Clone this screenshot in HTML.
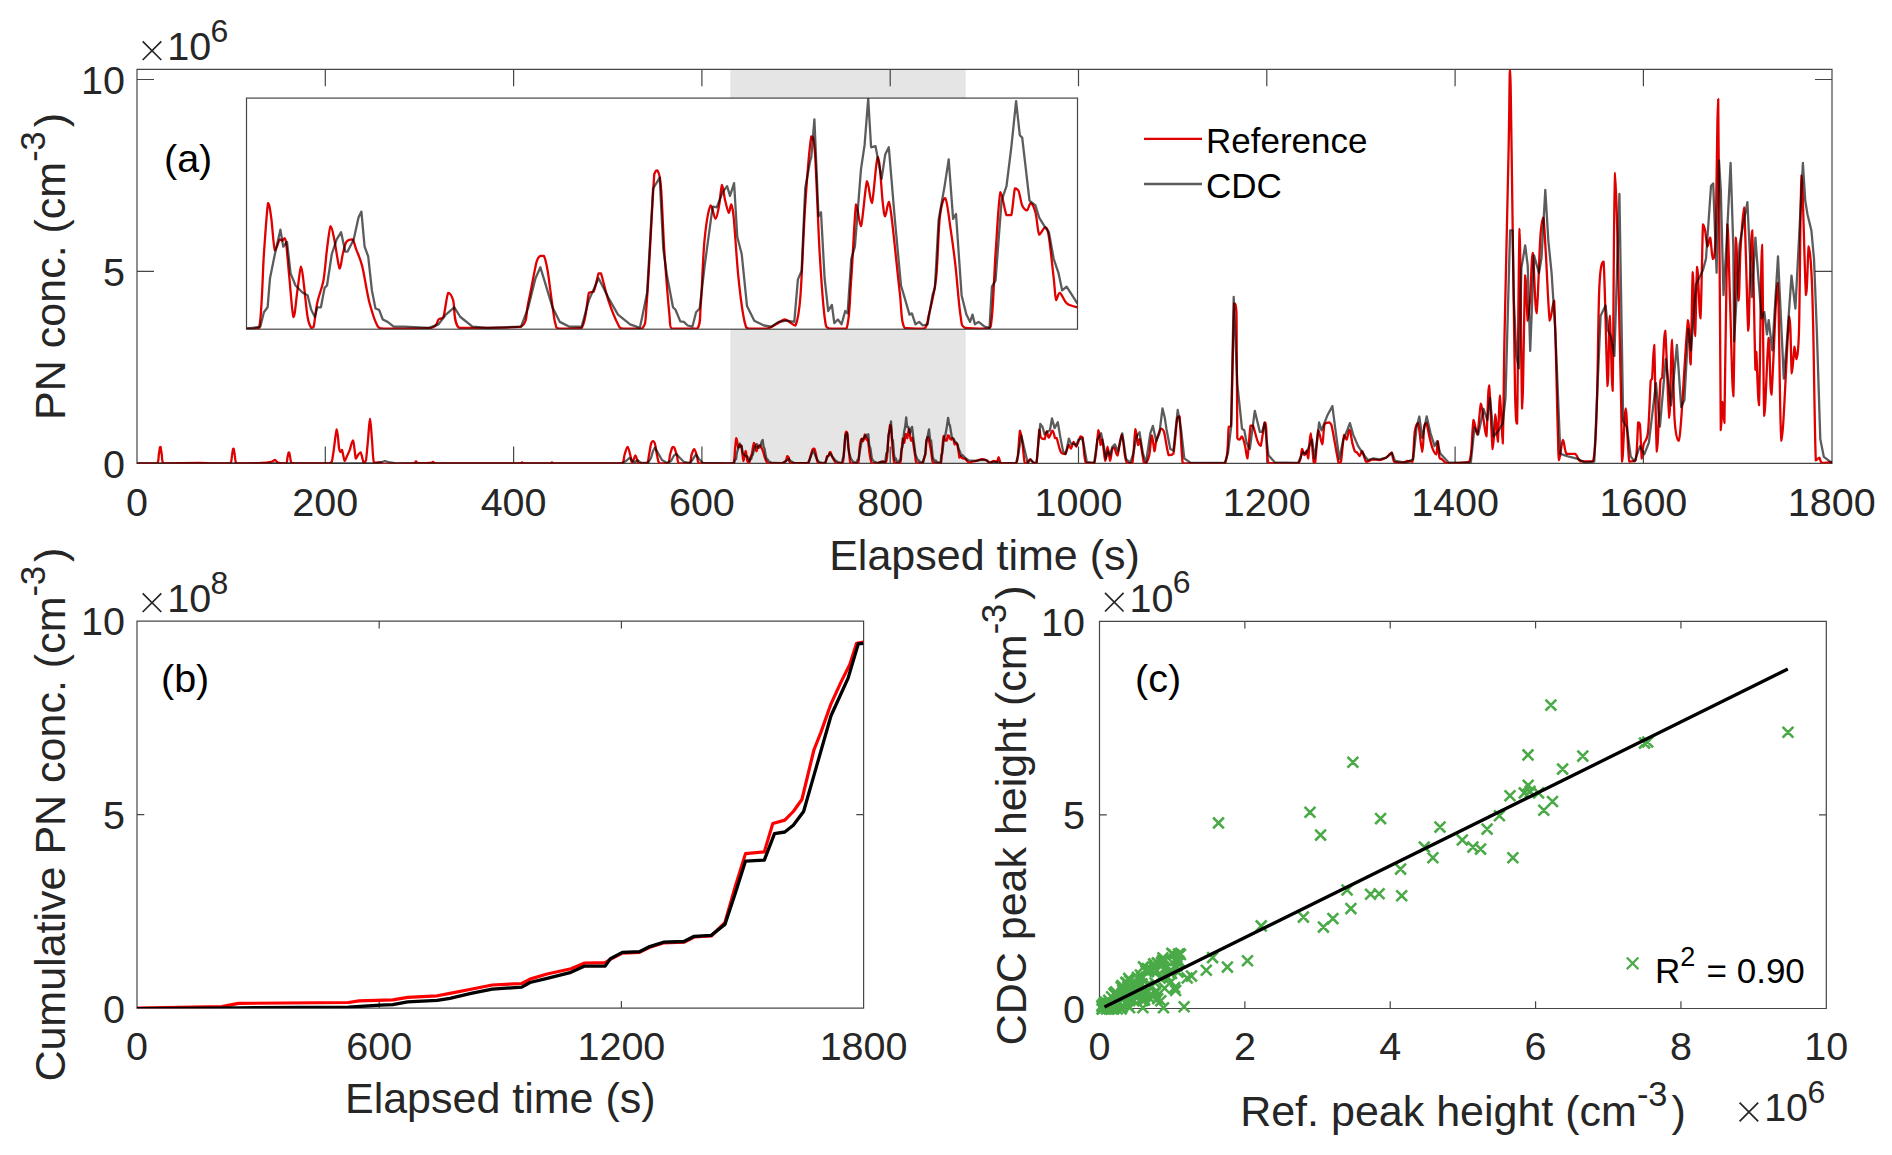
<!DOCTYPE html><html><head><meta charset="utf-8"><style>html,body{margin:0;padding:0;background:#fff;overflow:hidden}svg{display:block}</style></head><body><svg width="1892" height="1155" viewBox="0 0 1892 1155" font-family='"Liberation Sans", sans-serif'>
<rect width="1892" height="1155" fill="#fff"/>
<defs><clipPath id="ca"><rect x="137" y="69.3" width="1695" height="394.1"/></clipPath><clipPath id="ci"><rect x="246.5" y="98.1" width="831" height="231.1"/></clipPath><clipPath id="cb"><rect x="137" y="621.1" width="726.6" height="387.1"/></clipPath></defs>
<rect x="730.3" y="69.3" width="235.4" height="394.09999999999997" fill="#e5e5e5"/>
<path d="M137,69.3 H1832 V463.4 H137 Z M325.30,463.4 v-17 M325.30,69.3 v17 M513.60,463.4 v-17 M513.60,69.3 v17 M701.90,463.4 v-17 M701.90,69.3 v17 M890.20,463.4 v-17 M890.20,69.3 v17 M1078.50,463.4 v-17 M1078.50,69.3 v17 M1266.80,463.4 v-17 M1266.80,69.3 v17 M1455.10,463.4 v-17 M1455.10,69.3 v17 M1643.40,463.4 v-17 M1643.40,69.3 v17 M137,271.45 h17 M1832,271.45 h-17 M137,79.50 h17 M1832,79.50 h-17" fill="none" stroke="#262626" stroke-width="1.2" stroke-opacity="0.85"/>
<g clip-path="url(#ca)" fill="none" stroke-linejoin="round">
<path d="M137.0,463.4 C140.3,463.4 153.5,463.4 157.1,463.4 C158.9,461.9 158.4,457.0 158.9,454.3 C159.3,451.6 159.7,448.5 159.9,447.3 C160.2,446.8 160.2,446.8 160.3,446.8 C160.4,446.8 160.4,446.8 160.7,447.3 C160.9,448.5 161.3,451.6 161.7,454.3 C162.2,457.0 161.7,461.9 163.5,463.4 C169.9,463.4 192.2,463.0 200.0,463.0 C207.8,463.0 205.0,463.3 210.0,463.4 C215.0,463.4 226.5,463.4 230.2,463.4 C232.0,462.1 231.5,457.7 232.0,455.3 C232.4,452.9 232.8,450.3 233.0,449.2 C233.3,448.7 233.3,448.7 233.4,448.7 C233.5,448.7 233.5,448.7 233.8,449.2 C234.0,450.3 234.4,452.9 234.8,455.3 C235.3,457.7 234.8,462.1 236.6,463.4 C241.1,463.4 256.1,463.3 262.0,463.0 C267.9,462.7 269.8,462.0 272.0,461.5 C274.2,461.0 274.0,460.0 275.0,460.0 C276.0,460.2 276.2,461.9 278.0,462.5 C279.8,463.1 284.3,463.4 285.9,463.4 C287.5,462.5 287.1,459.1 287.5,457.3 C288.0,455.5 288.3,453.6 288.5,452.8 C288.8,452.3 288.8,452.3 288.9,452.3 C289.0,452.3 289.0,452.3 289.3,452.8 C289.5,453.6 289.8,455.5 290.2,457.3 C290.7,459.1 290.2,462.4 291.9,463.4 C298.5,463.4 323.1,463.4 330.0,463.4 C333.0,462.0 331.9,460.7 333.0,455.0 C334.1,449.3 335.8,430.5 336.8,429.3 C337.8,429.3 338.4,444.2 339.0,448.0 C339.6,451.8 340.0,451.7 340.5,452.0 C341.0,452.0 341.3,450.0 342.0,450.0 C342.7,451.5 343.9,460.0 344.7,461.0 C345.5,461.0 346.2,457.7 347.0,456.0 C347.8,454.3 348.5,453.3 349.5,450.7 C350.5,448.1 351.9,440.4 353.0,440.4 C354.1,441.7 355.0,456.3 355.8,458.7 C356.6,458.7 357.2,456.1 358.0,455.0 C358.8,453.9 359.7,452.3 360.6,452.3 C361.6,453.6 362.8,461.3 363.7,462.6 C364.6,462.6 365.3,462.6 366.0,460.0 C366.7,456.2 367.3,446.9 368.0,440.0 C368.7,433.1 369.3,418.7 370.0,418.7 C370.7,418.7 371.3,432.7 372.0,440.0 C372.7,447.3 372.7,458.9 374.0,462.6 C375.3,462.6 378.3,462.5 380.0,462.5 C381.7,462.7 382.3,463.8 384.0,464.0 C385.7,464.0 385.0,463.7 390.0,463.6 C395.0,463.5 409.7,463.6 414.0,463.2 C416.0,462.8 415.3,461.5 416.0,461.5 C416.7,461.5 416.0,462.9 418.0,463.2 C420.3,463.2 427.5,463.2 430.0,463.0 C432.5,462.8 432.0,462.0 433.0,462.0 C434.0,462.1 433.0,463.2 436.0,463.4 C450.5,463.4 505.7,463.4 520.0,463.4 C522.0,463.2 521.3,462.5 522.0,462.5 C522.7,462.5 522.0,463.2 524.0,463.4 C528.7,463.4 545.3,463.4 550.0,463.4 C552.0,463.2 551.2,462.5 552.0,462.5 C552.8,462.5 552.0,463.2 555.0,463.4 C561.3,463.4 578.8,463.4 590.0,463.4 C601.2,463.4 616.2,463.4 622.0,463.2 C624.5,461.8 623.6,457.7 624.5,455.0 C625.4,452.3 626.6,446.8 627.6,446.8 C628.6,447.0 629.8,453.3 630.5,456.0 C631.2,458.7 631.5,462.3 632.0,463.0 C632.5,463.0 632.9,461.2 633.5,460.0 C634.1,458.8 634.8,455.5 635.5,455.5 C636.2,455.7 636.9,459.7 637.5,461.0 C638.1,462.3 637.5,463.0 639.0,463.4 C640.6,463.4 645.3,463.4 647.0,463.2 C648.7,461.8 648.3,458.2 649.0,455.0 C649.7,451.8 650.3,446.3 651.0,444.0 C651.7,441.7 652.3,441.2 653.0,441.2 C653.7,441.2 654.3,441.7 655.0,444.0 C655.7,446.3 656.2,451.8 657.0,455.0 C657.8,458.2 657.7,462.0 659.5,463.4 C661.3,463.4 666.2,463.4 668.0,463.2 C669.8,461.8 669.3,457.5 670.0,455.0 C670.7,452.5 671.5,449.4 672.0,448.0 C672.5,446.8 672.8,446.8 673.2,446.8 C673.6,446.8 673.9,446.8 674.5,448.0 C675.1,449.5 676.2,453.4 677.0,456.0 C677.8,458.6 677.0,462.2 679.0,463.4 C681.1,463.4 687.4,463.4 689.5,463.2 C691.5,461.8 690.7,457.3 691.5,455.0 C692.3,452.7 693.3,449.2 694.2,449.2 C695.1,449.4 696.2,453.6 697.0,456.0 C697.8,458.4 697.0,462.2 699.0,463.4 C704.3,463.4 723.8,463.4 729.0,463.4 C730.1,463.4 729.4,463.3 730.1,463.3 C730.9,463.3 732.9,463.3 733.7,463.1 C734.5,460.7 734.7,452.5 735.1,448.4 C735.5,444.2 735.9,439.4 736.3,438.2 C736.6,438.2 736.8,439.5 737.1,441.1 C737.5,442.7 737.8,446.9 738.2,447.6 C738.6,447.6 739.2,445.8 739.6,445.4 C739.9,445.4 740.0,445.7 740.2,445.7 C740.5,445.6 740.7,445.2 740.9,445.2 C741.1,445.3 741.2,445.2 741.4,446.4 C741.6,447.8 742.0,450.8 742.3,453.2 C742.6,455.6 743.1,460.6 743.5,461.0 C743.8,461.0 744.2,457.3 744.6,455.6 C744.9,454.0 745.3,451.0 745.6,450.9 C745.9,450.9 746.1,453.0 746.4,454.7 C746.7,456.3 747.1,459.6 747.4,461.0 C747.8,462.4 748.2,462.8 748.5,463.1 C748.8,463.1 748.9,463.1 749.2,462.9 C749.5,462.1 749.7,459.6 750.2,458.1 C750.7,456.5 751.5,455.5 751.9,453.7 C752.4,451.9 752.6,449.2 752.9,447.4 C753.3,445.6 753.6,443.1 754.0,442.8 C754.3,442.8 754.6,444.0 755.0,445.4 C755.4,446.9 756.1,450.8 756.5,451.3 C756.9,451.3 757.1,449.2 757.4,448.4 C757.7,447.5 758.0,446.4 758.4,445.9 C758.9,445.4 759.7,445.4 760.2,445.4 C760.6,445.7 760.7,446.5 761.2,447.4 C761.6,448.3 762.3,449.0 762.9,450.8 C763.5,452.6 764.2,456.0 765.0,458.1 C765.7,460.1 766.6,462.0 767.4,462.9 C768.1,463.3 767.4,463.3 769.4,463.3 C771.9,463.3 780.0,463.3 782.5,463.1 C784.5,462.8 784.0,461.8 784.5,461.5 C785.1,461.1 785.5,461.5 785.9,461.0 C786.4,460.1 786.8,456.7 787.3,456.1 C787.7,456.1 788.1,456.4 788.7,457.6 C789.2,458.7 788.7,462.3 790.4,463.1 C793.6,463.1 804.6,463.1 807.9,462.9 C809.9,462.1 809.2,460.2 809.9,458.1 C810.7,455.9 811.8,451.4 812.4,449.8 C812.9,448.7 813.0,448.9 813.4,448.7 C813.7,448.7 814.1,448.7 814.4,448.7 C814.8,449.2 814.9,449.6 815.4,451.8 C816.0,454.0 816.9,460.0 817.5,461.9 C818.1,463.3 817.6,463.1 818.9,463.3 C820.1,463.3 823.7,463.3 825.1,463.1 C826.4,462.0 826.5,457.3 827.1,456.1 C827.7,455.9 828.0,456.1 828.5,455.9 C829.0,455.2 829.5,452.8 829.9,452.2 C830.2,452.2 830.1,452.2 830.6,452.2 C831.0,453.1 831.8,455.9 832.6,457.6 C833.4,459.3 834.7,461.5 835.4,462.4 C836.0,463.3 835.6,463.1 836.7,463.3 C837.9,463.3 841.1,463.3 842.2,463.3 C843.4,462.3 843.0,462.2 843.6,457.1 C844.2,451.9 845.2,436.6 845.7,432.4 C846.1,431.6 846.2,431.6 846.5,431.6 C846.8,432.0 847.2,432.0 847.5,434.8 C847.9,437.6 848.2,444.1 848.6,448.4 C849.0,452.6 849.6,458.0 849.9,460.5 C850.3,463.0 849.9,462.8 850.6,463.3 C851.9,463.3 856.5,463.3 857.8,463.3 C858.9,462.4 858.5,461.0 858.9,458.1 C859.2,455.1 859.4,448.7 859.9,445.4 C860.3,442.2 861.1,439.3 861.6,438.7 C862.1,438.7 862.6,441.3 863.0,441.3 C863.4,441.3 863.7,439.8 864.0,438.7 C864.3,437.5 864.5,434.7 864.8,434.5 C865.1,434.5 865.4,436.8 865.7,437.7 C866.0,438.6 866.5,440.0 866.8,440.1 C867.0,440.1 867.2,438.4 867.4,438.4 C867.7,438.6 867.8,438.6 868.1,441.1 C868.5,443.5 869.0,449.7 869.5,453.2 C870.0,456.7 870.7,460.3 871.2,461.9 C871.7,463.3 871.6,463.1 872.6,463.3 C873.6,463.3 876.1,463.3 877.4,463.3 C878.7,463.1 879.3,462.7 880.1,462.4 C881.0,462.1 881.9,461.5 882.6,461.5 C883.2,461.5 883.4,461.7 883.9,461.9 C884.4,462.1 885.1,462.7 885.6,462.7 C886.2,461.9 886.6,461.1 887.0,457.1 C887.5,453.1 887.9,444.0 888.4,438.7 C888.9,433.3 889.6,426.6 890.1,424.8 C890.6,424.8 890.7,424.8 891.1,428.0 C891.5,431.9 892.1,442.9 892.5,448.4 C893.0,453.9 893.4,458.5 893.9,461.0 C894.3,463.3 894.2,462.9 895.3,463.3 C896.3,463.3 899.0,463.3 900.1,463.3 C901.1,461.6 901.0,457.4 901.4,453.2 C901.9,449.1 902.4,440.2 902.8,438.4 C903.3,438.4 903.7,442.8 904.2,442.8 C904.7,442.0 905.4,434.6 905.9,433.8 C906.4,433.8 906.8,438.2 907.3,438.2 C907.8,437.4 908.5,429.0 909.0,429.0 C909.5,429.0 910.0,436.2 910.4,438.2 C910.7,440.2 910.8,440.8 911.1,440.8 C911.3,440.8 911.7,437.9 912.1,437.9 C912.4,438.2 912.6,439.5 913.1,442.5 C913.6,445.6 914.6,452.7 915.2,456.1 C915.7,459.6 915.4,462.0 916.5,463.1 C917.7,463.3 920.9,463.3 922.0,463.3 C923.2,462.8 922.8,462.2 923.4,460.5 C924.0,458.8 925.0,456.4 925.5,453.2 C926.0,450.0 926.1,443.8 926.5,441.1 C926.9,438.4 927.6,437.2 928.1,437.2 C928.6,437.6 929.1,441.2 929.6,443.5 C930.1,445.8 930.5,448.0 931.0,450.8 C931.4,453.6 931.9,458.4 932.3,460.5 C932.8,462.5 932.5,462.7 933.7,463.1 C935.0,463.3 938.6,463.3 939.9,463.3 C941.2,462.9 940.9,463.3 941.3,461.0 C941.7,458.5 941.9,452.5 942.3,448.4 C942.7,444.2 943.2,437.3 943.7,436.0 C944.2,436.0 944.9,439.8 945.4,440.6 C945.9,440.6 946.4,440.6 946.8,440.6 C947.2,439.7 947.5,436.1 947.8,435.3 C948.1,435.3 948.5,435.3 948.8,435.7 C949.2,436.3 949.5,438.0 949.9,438.7 C950.3,439.3 950.8,439.6 951.2,439.6 C951.6,439.5 951.9,438.2 952.3,438.2 C952.7,438.3 953.2,439.1 953.6,440.1 C954.0,441.2 954.2,444.0 954.7,444.5 C955.1,444.5 955.9,443.0 956.4,443.0 C956.8,443.1 957.0,443.3 957.4,445.0 C957.8,446.7 958.4,451.1 958.8,453.2 C959.1,455.3 959.2,457.1 959.5,457.6 C959.8,457.6 960.0,456.1 960.5,456.1 C961.0,456.2 961.7,457.8 962.6,458.3 C963.4,458.8 964.5,458.3 965.5,459.0 C966.5,459.7 966.7,462.1 968.5,462.4 C970.2,462.4 973.6,461.4 975.9,460.8 C978.1,460.3 980.4,459.3 982.2,459.2 C984.0,459.2 985.2,459.7 986.4,460.3 C987.7,460.9 988.4,462.9 989.6,462.9 C990.8,462.9 992.6,461.0 993.8,460.8 C995.1,460.8 996.2,461.9 997.0,461.9 C997.8,461.3 998.1,457.1 998.6,457.1 C999.1,457.1 999.6,460.8 1000.2,461.9 C1000.8,462.9 1000.2,463.2 1002.3,463.5 C1004.7,463.5 1012.4,463.5 1015.0,463.5 C1017.5,462.5 1016.8,463.1 1017.6,457.7 C1018.5,452.2 1019.2,433.2 1020.0,430.7 C1020.8,430.7 1021.6,437.7 1022.4,442.9 C1023.1,448.1 1023.8,458.4 1024.5,461.9 C1025.2,463.5 1025.6,463.5 1026.6,463.5 C1027.6,463.0 1029.1,459.2 1030.3,459.2 C1031.5,459.2 1032.9,462.9 1034.0,463.5 C1035.1,463.5 1035.8,463.5 1036.6,462.9 C1037.5,457.3 1038.6,433.9 1039.3,429.6 C1040.0,429.6 1040.0,436.0 1040.9,437.6 C1041.7,439.2 1043.6,439.2 1044.6,439.2 C1045.5,438.1 1046.0,431.5 1046.7,431.2 C1047.4,431.2 1047.8,437.6 1048.8,437.6 C1049.8,437.5 1051.4,430.7 1052.5,430.7 C1053.6,430.8 1054.4,436.9 1055.1,438.1 C1055.8,438.1 1056.0,438.1 1056.7,438.1 C1057.4,439.8 1058.6,445.7 1059.4,448.1 C1060.2,450.6 1060.5,451.9 1061.5,452.9 C1062.4,453.9 1063.9,454.0 1065.2,454.0 C1066.4,452.6 1067.9,445.8 1068.9,445.0 C1069.8,445.0 1070.2,448.7 1071.0,448.7 C1071.8,448.1 1072.8,442.1 1073.6,441.8 C1074.5,441.8 1075.1,446.6 1076.3,446.6 C1077.4,445.7 1079.5,438.0 1080.5,436.5 C1081.6,436.5 1081.7,436.5 1082.6,437.6 C1083.5,442.0 1083.9,458.7 1085.8,462.9 C1087.7,463.3 1092.1,463.3 1094.2,463.3 C1096.4,457.8 1097.4,433.2 1098.5,430.2 C1099.5,430.2 1100.0,443.4 1100.6,445.0 C1101.2,445.0 1101.4,439.7 1102.2,439.7 C1103.0,442.3 1104.5,459.7 1105.3,460.8 C1106.2,460.8 1106.7,446.6 1107.5,446.6 C1108.3,446.6 1109.3,460.4 1110.1,460.8 C1110.9,460.8 1111.5,451.4 1112.2,449.2 C1112.9,447.6 1113.5,447.6 1114.3,447.6 C1115.2,448.7 1116.3,455.5 1117.5,455.5 C1118.7,453.3 1120.5,434.4 1121.7,434.4 C1123.0,434.4 1124.0,450.8 1124.9,455.5 C1125.8,460.3 1125.8,461.6 1127.0,462.9 C1128.3,463.5 1130.9,463.5 1132.3,463.5 C1133.7,457.8 1134.5,432.2 1135.5,429.1 C1136.4,429.1 1137.4,443.3 1138.1,445.0 C1138.8,445.0 1138.7,439.2 1139.7,439.2 C1140.7,442.1 1142.9,458.9 1143.9,462.9 C1145.0,463.5 1145.2,463.5 1146.0,463.5 C1146.9,462.2 1148.2,460.2 1149.2,455.5 C1150.2,450.9 1151.0,436.2 1151.9,435.5 C1152.7,435.5 1153.8,450.4 1154.5,451.3 C1155.2,451.3 1155.2,445.0 1156.2,441.2 C1157.3,437.4 1159.6,430.3 1160.9,428.7 C1162.2,428.7 1162.7,428.7 1164.0,431.9 C1165.3,436.3 1167.1,451.6 1168.7,455.2 C1170.3,455.2 1172.0,455.2 1173.4,453.7 C1174.8,447.4 1176.2,424.1 1177.3,417.8 C1178.3,416.3 1178.7,416.3 1179.6,416.3 C1180.5,423.8 1181.4,455.2 1182.7,463.0 C1184.0,463.3 1182.7,463.3 1187.4,463.3 C1194.4,463.3 1217.9,463.3 1224.8,463.3 C1228.7,457.3 1227.7,433.5 1228.7,427.2 C1229.8,425.6 1230.2,427.2 1231.1,425.6 C1232.0,405.0 1233.3,322.0 1234.2,303.3 C1235.1,303.3 1236.0,303.3 1236.5,313.4 C1237.0,335.9 1236.8,417.0 1237.3,438.1 C1237.8,439.6 1238.9,439.6 1239.6,439.6 C1240.4,439.4 1241.1,436.5 1242.0,436.5 C1242.9,437.6 1244.2,442.2 1245.1,445.9 C1246.0,449.5 1246.5,458.4 1247.4,458.4 C1248.3,455.0 1249.6,431.1 1250.5,425.6 C1251.5,425.6 1251.7,425.6 1252.9,425.6 C1254.1,428.2 1256.3,437.8 1257.6,441.2 C1258.9,444.6 1259.5,445.9 1260.7,445.9 C1261.8,442.8 1263.7,425.6 1264.6,422.5 C1265.5,422.5 1265.5,422.5 1266.1,427.2 C1266.8,433.9 1266.1,457.0 1268.5,463.0 C1273.8,463.3 1292.5,463.3 1298.1,463.3 C1302.0,461.0 1300.9,450.4 1302.0,449.0 C1303.0,449.0 1303.5,455.0 1304.3,455.2 C1305.1,455.2 1306.0,450.6 1306.7,450.6 C1307.3,451.1 1307.6,458.4 1308.2,458.4 C1308.9,455.5 1309.7,433.4 1310.6,433.4 C1311.5,434.1 1312.9,457.4 1313.7,462.3 C1314.5,462.3 1314.5,462.3 1315.2,462.3 C1316.0,456.9 1317.2,433.3 1318.4,430.3 C1319.5,430.3 1321.2,444.3 1322.3,444.3 C1323.3,443.3 1323.4,427.7 1324.6,424.1 C1325.8,422.5 1328.1,422.5 1329.3,422.5 C1330.4,422.8 1330.0,422.5 1331.6,425.6 C1333.2,432.4 1337.1,457.1 1338.6,463.0 C1340.2,463.0 1340.0,463.0 1341.0,461.5 C1341.9,456.8 1343.1,438.6 1344.1,435.0 C1345.0,435.0 1345.7,439.6 1346.6,439.6 C1347.5,438.7 1348.6,429.7 1349.5,429.7 C1350.5,430.2 1351.5,439.3 1352.3,442.9 C1353.2,446.4 1354.0,449.4 1354.8,451.1 C1355.6,452.7 1356.5,451.9 1357.3,452.7 C1358.1,453.5 1358.9,456.0 1359.7,456.0 C1360.6,455.7 1361.1,451.1 1362.2,451.1 C1363.3,452.0 1364.5,460.4 1366.3,461.8 C1368.1,461.8 1370.7,459.6 1372.9,459.3 C1375.1,459.3 1377.3,460.1 1379.5,460.1 C1381.7,459.9 1384.4,458.6 1386.1,457.7 C1387.7,456.7 1388.4,455.2 1389.4,454.4 C1390.3,453.5 1391.0,452.7 1391.8,452.7 C1392.6,454.0 1392.5,460.1 1394.3,461.8 C1396.1,462.6 1400.3,462.6 1402.5,462.6 C1404.7,462.5 1405.8,461.1 1407.4,461.0 C1409.1,461.0 1411.1,461.8 1412.4,461.8 C1413.6,456.8 1413.9,437.8 1414.8,431.3 C1415.8,424.9 1416.9,423.1 1418.1,423.1 C1419.4,426.5 1421.2,451.4 1422.3,451.9 C1423.3,451.9 1423.5,431.2 1424.2,426.4 C1424.9,423.1 1425.5,423.1 1426.4,423.1 C1427.3,425.0 1428.6,433.5 1429.7,437.9 C1430.7,442.3 1431.8,446.7 1432.9,449.4 C1434.0,452.2 1435.4,454.4 1436.2,454.4 C1437.1,453.0 1437.3,441.2 1437.9,441.2 C1438.4,441.8 1438.8,454.6 1439.5,457.7 C1440.2,459.3 1440.8,458.3 1442.0,459.3 C1443.2,460.3 1444.7,462.7 1446.9,463.4 C1449.1,463.4 1452.4,463.4 1455.2,463.4 C1457.9,463.3 1461.1,462.9 1463.4,462.6 C1465.7,462.3 1467.8,462.6 1469.1,461.8 C1470.4,459.9 1470.5,457.9 1471.3,450.9 C1472.0,443.9 1472.6,422.7 1473.6,420.0 C1474.6,420.0 1476.1,434.5 1477.3,434.5 C1478.5,431.8 1479.9,406.0 1480.9,403.6 C1482.0,403.6 1482.7,414.5 1483.6,420.0 C1484.5,425.5 1485.5,436.4 1486.4,436.4 C1487.3,430.6 1488.0,385.5 1489.1,385.5 C1490.1,387.6 1491.6,444.3 1492.7,449.1 C1493.8,449.1 1494.7,415.7 1495.5,414.5 C1496.3,414.5 1497.0,441.8 1497.8,441.8 C1498.5,438.6 1499.2,395.5 1500.0,395.5 C1500.8,395.8 1502.0,443.6 1502.7,443.6 C1503.5,433.8 1503.5,385.3 1504.5,336.4 C1505.5,287.5 1507.7,194.6 1508.6,150.0 C1509.5,105.4 1509.5,69.0 1510.0,69.0 C1510.5,69.0 1510.8,95.5 1511.6,150.0 C1512.4,204.5 1514.2,350.4 1515.1,396.0 C1516.0,423.7 1516.3,423.7 1517.1,423.7 C1517.8,395.9 1518.8,231.5 1519.6,229.0 C1520.4,229.0 1521.3,400.9 1522.2,408.6 C1523.1,408.6 1524.3,290.1 1525.2,275.5 C1526.1,275.5 1526.9,316.9 1527.7,320.7 C1528.5,320.7 1529.4,309.3 1530.2,298.0 C1531.0,286.7 1531.7,252.9 1532.7,252.9 C1533.8,255.4 1535.2,313.2 1536.5,313.2 C1537.8,310.7 1539.2,253.7 1540.3,237.8 C1541.4,221.9 1542.4,217.7 1543.3,217.7 C1544.2,220.2 1544.7,235.7 1545.8,252.9 C1546.9,270.1 1548.4,312.8 1549.8,320.7 C1551.2,320.7 1552.8,300.6 1554.1,300.6 C1555.4,319.0 1557.0,404.7 1557.8,431.3 C1558.6,457.9 1558.2,458.8 1559.1,460.2 C1559.9,460.2 1561.7,441.1 1562.9,440.0 C1564.2,440.0 1564.5,451.6 1566.6,453.9 C1568.7,453.9 1573.1,453.9 1575.4,453.9 C1577.7,455.1 1577.6,460.1 1580.5,461.4 C1583.4,461.4 1590.3,461.4 1593.0,461.4 C1595.7,452.2 1595.8,435.0 1596.8,406.1 C1597.8,377.2 1598.2,312.1 1599.3,288.0 C1600.4,263.9 1602.2,261.7 1603.6,261.7 C1605.0,278.0 1606.6,377.0 1607.6,386.0 C1608.6,386.0 1609.0,315.7 1609.8,315.7 C1610.6,316.5 1611.7,391.0 1612.6,391.0 C1613.5,367.2 1613.8,174.7 1615.1,173.0 C1616.4,173.0 1619.5,332.9 1620.7,381.0 C1621.9,429.1 1621.4,457.1 1622.2,461.6 C1623.0,461.6 1624.5,408.3 1625.7,408.3 C1626.9,408.3 1627.6,453.0 1629.3,461.6 C1631.0,461.6 1634.2,461.6 1635.7,460.2 C1637.2,453.7 1637.5,428.4 1638.2,422.5 C1638.9,422.5 1639.4,422.5 1640.0,424.9 C1640.6,430.9 1641.2,455.4 1641.8,458.6 C1642.4,458.6 1642.6,448.8 1643.6,444.4 C1644.6,440.0 1646.8,442.6 1648.0,432.0 C1649.2,421.4 1650.0,389.4 1650.7,380.5 C1651.4,378.7 1651.5,380.5 1652.1,378.7 C1652.7,372.8 1653.4,344.9 1654.2,344.9 C1655.0,357.0 1655.9,445.6 1656.9,451.5 C1657.9,451.5 1659.5,392.9 1660.4,380.5 C1661.3,376.9 1661.4,380.5 1662.2,376.9 C1663.0,368.6 1664.0,330.7 1665.2,330.7 C1666.4,337.5 1668.2,416.3 1669.3,417.8 C1670.4,417.8 1671.1,339.6 1672.0,339.6 C1672.9,339.9 1673.5,402.6 1674.6,419.5 C1675.7,436.4 1677.5,440.8 1678.7,440.8 C1679.9,439.6 1680.2,432.5 1681.7,412.4 C1683.2,392.3 1686.5,328.1 1688.0,320.1 C1689.5,320.1 1689.8,364.5 1690.6,364.5 C1691.4,356.5 1692.0,276.9 1692.8,272.1 C1693.5,272.1 1694.4,336.0 1695.1,336.0 C1695.8,335.1 1696.3,269.8 1697.2,266.8 C1698.1,266.8 1699.4,318.3 1700.4,318.3 C1701.4,311.2 1702.2,239.0 1703.0,224.3 C1703.8,224.3 1704.2,226.3 1705.0,230.0 C1705.8,233.7 1706.6,245.2 1707.5,246.5 C1708.4,246.5 1709.3,237.6 1710.2,237.6 C1711.1,239.7 1711.9,258.5 1712.8,258.9 C1713.7,258.9 1714.6,258.9 1715.5,240.0 C1716.4,213.4 1717.3,99.1 1718.2,99.1 C1719.1,130.8 1720.1,379.8 1720.8,430.2 C1721.5,430.2 1722.0,403.0 1722.6,401.8 C1723.2,401.8 1723.6,423.1 1724.4,423.1 C1725.2,393.5 1726.5,244.8 1727.4,224.3 C1728.3,224.3 1729.0,271.3 1730.0,300.0 C1731.0,328.7 1732.3,396.4 1733.3,396.4 C1734.3,386.0 1735.0,253.6 1735.9,237.6 C1736.8,237.6 1737.8,298.4 1738.6,300.5 C1739.4,300.5 1739.6,265.5 1740.5,250.0 C1741.4,234.5 1743.0,207.4 1743.9,207.4 C1744.8,209.1 1745.3,239.4 1746.0,260.0 C1746.7,280.6 1747.6,327.4 1748.3,330.7 C1749.0,330.7 1749.3,296.7 1750.0,280.0 C1750.7,263.3 1751.3,230.5 1752.2,230.5 C1753.1,245.5 1754.7,349.6 1755.4,369.8 C1756.1,369.8 1755.7,352.0 1756.3,352.0 C1756.9,357.9 1758.0,405.3 1759.0,405.3 C1760.0,387.4 1761.1,244.7 1762.0,244.7 C1762.9,246.5 1763.2,400.5 1764.3,416.0 C1765.4,416.0 1767.5,341.4 1768.7,337.8 C1769.9,337.8 1769.9,394.7 1771.4,394.7 C1772.9,385.5 1775.9,282.8 1777.6,282.8 C1779.3,290.5 1779.6,435.2 1781.5,440.8 C1783.4,440.8 1787.5,327.8 1789.2,316.5 C1790.9,316.5 1790.9,368.3 1791.8,373.3 C1792.7,373.3 1793.8,349.1 1794.5,346.7 C1795.2,346.7 1795.5,359.1 1796.3,359.1 C1797.0,356.4 1798.1,359.1 1799.0,330.7 C1799.9,300.1 1800.4,181.4 1801.6,175.5 C1802.8,175.5 1804.8,283.4 1806.0,295.2 C1807.2,295.2 1807.8,250.3 1808.7,246.5 C1809.6,246.5 1810.7,258.7 1811.4,272.1 C1812.2,285.6 1812.5,295.8 1813.2,327.2 C1813.9,358.6 1814.8,438.6 1815.8,460.4 C1816.8,460.4 1818.4,457.7 1819.4,457.7 C1820.4,458.1 1819.8,462.2 1822.0,463.0 C1824.2,463.0 1830.9,462.3 1832.7,462.2" stroke="#e00000" stroke-width="2.3"/>
<path d="M137.0,463.4 L375.0,463.4 L380.0,462.5 L385.0,461.0 L390.0,462.5 L396.0,463.4 L622.0,463.4 L626.0,461.0 L629.6,457.9 L633.0,461.5 L635.0,462.0 L637.6,460.2 L641.0,462.8 L648.0,463.0 L651.0,458.0 L653.0,451.0 L655.0,447.6 L658.0,453.0 L662.0,460.0 L667.0,463.0 L671.0,461.0 L674.0,455.5 L676.4,453.9 L680.0,458.0 L684.0,462.0 L690.0,463.2 L693.0,459.0 L695.8,454.7 L699.0,459.0 L703.0,463.0 L729.0,463.4 L730.1,463.3 L734.1,462.9 L735.1,460.0 L736.1,459.0 L736.8,453.2 L738.2,448.4 L739.8,443.5 L740.6,446.9 L741.6,445.9 L742.6,452.2 L744.0,454.7 L746.1,456.1 L747.4,456.6 L748.5,459.5 L749.5,461.0 L750.2,459.0 L751.2,459.0 L752.3,455.1 L752.9,454.7 L754.3,448.4 L755.7,445.4 L756.9,444.0 L758.1,447.9 L758.8,447.9 L760.5,445.4 L761.9,441.1 L762.7,439.9 L763.6,446.9 L764.6,448.8 L765.7,455.6 L766.7,459.3 L767.7,459.5 L768.7,461.5 L770.1,461.9 L771.8,462.9 L774.9,462.9 L781.8,463.1 L784.5,462.4 L786.6,460.5 L789.0,459.0 L790.7,461.0 L794.2,462.9 L798.3,463.1 L807.9,462.9 L809.9,459.0 L812.0,453.2 L813.4,451.0 L814.8,454.2 L816.8,459.0 L818.9,461.9 L821.6,462.9 L825.1,462.9 L827.1,457.6 L829.9,453.2 L832.6,457.1 L835.4,460.5 L838.8,462.4 L841.5,463.1 L842.2,461.0 L843.6,456.1 L845.3,435.3 L847.2,433.1 L848.2,447.4 L849.2,452.7 L851.0,459.0 L851.6,459.5 L853.0,461.8 L854.0,461.9 L855.1,462.7 L856.5,462.9 L857.5,460.0 L858.5,459.3 L859.9,450.8 L861.9,440.1 L862.3,438.9 L863.3,439.0 L865.0,436.0 L866.3,434.8 L867.1,436.7 L868.3,434.2 L869.2,445.0 L870.4,448.4 L871.9,458.8 L874.0,461.7 L876.7,462.7 L878.8,462.9 L880.8,461.9 L883.2,461.7 L885.3,461.9 L886.3,453.4 L887.4,451.8 L888.4,435.3 L889.8,429.9 L890.1,429.0 L891.0,421.4 L892.2,440.8 L892.9,440.0 L893.9,453.2 L894.9,459.8 L895.9,458.5 L896.6,462.2 L897.7,461.5 L898.7,462.4 L899.7,459.8 L900.4,460.2 L901.4,449.3 L902.5,446.9 L904.2,431.4 L905.2,426.5 L906.2,417.3 L907.1,427.0 L908.3,426.8 L910.0,433.3 L911.1,428.5 L912.1,427.0 L913.8,441.6 L915.5,454.7 L916.5,457.1 L917.9,460.5 L918.6,460.2 L919.6,462.4 L920.7,461.9 L921.7,462.7 L923.1,462.4 L924.4,456.6 L925.1,455.1 L926.2,441.6 L927.9,434.8 L929.0,429.4 L930.3,441.3 L931.1,440.4 L932.7,456.6 L934.1,460.5 L935.1,461.9 L935.8,460.5 L936.5,462.4 L937.5,461.9 L939.2,462.9 L940.6,463.1 L941.3,454.9 L942.3,453.7 L944.0,437.7 L945.4,434.8 L946.8,427.0 L948.1,417.8 L949.2,424.6 L949.9,425.1 L951.9,437.7 L953.6,438.7 L954.7,441.1 L956.4,443.0 L957.4,444.0 L958.8,449.3 L960.2,452.2 L961.2,455.6 L962.4,454.9 L965.5,458.3 L968.5,460.3 L975.9,460.8 L982.2,459.8 L986.4,460.3 L989.6,462.4 L997.0,461.9 L1002.3,463.5 L1016.0,462.9 L1018.1,455.5 L1021.3,435.5 L1024.5,449.2 L1027.7,462.9 L1030.3,459.8 L1034.0,462.9 L1036.6,461.9 L1040.3,423.8 L1042.5,427.0 L1044.6,434.4 L1046.7,432.3 L1049.9,430.2 L1052.0,418.5 L1054.6,428.1 L1057.8,422.2 L1060.4,437.6 L1063.1,451.3 L1065.7,454.0 L1068.9,438.6 L1071.0,443.9 L1074.2,443.9 L1076.3,445.5 L1078.4,439.7 L1082.1,438.1 L1084.2,447.1 L1086.8,461.9 L1094.2,462.9 L1097.4,439.7 L1101.1,433.3 L1103.8,446.0 L1105.9,458.7 L1108.0,450.8 L1110.1,455.5 L1112.2,447.1 L1114.9,444.4 L1118.0,451.3 L1122.3,433.3 L1126.0,458.7 L1130.2,462.9 L1133.4,453.4 L1136.5,436.5 L1139.5,432.3 L1142.9,453.4 L1146.0,462.9 L1150.3,433.3 L1152.9,425.9 L1156.2,441.2 L1159.4,433.4 L1162.5,408.5 L1164.8,417.8 L1166.4,428.7 L1170.3,449.0 L1173.4,450.6 L1177.7,410.0 L1181.2,430.3 L1184.3,458.4 L1190.5,462.7 L1224.8,463.0 L1227.9,453.7 L1231.1,427.2 L1233.7,297.0 L1237.3,383.5 L1242.0,428.7 L1244.3,430.3 L1246.6,442.8 L1249.8,449.0 L1254.8,410.8 L1257.6,422.5 L1259.9,431.9 L1262.2,431.9 L1264.6,423.3 L1268.5,455.2 L1274.7,462.3 L1298.1,463.0 L1302.8,452.1 L1305.9,453.7 L1312.1,439.6 L1314.5,458.4 L1316.8,442.8 L1319.1,422.5 L1321.5,430.3 L1327.7,414.7 L1332.4,406.1 L1335.5,430.3 L1339.4,459.1 L1343.3,439.6 L1347.4,429.7 L1349.9,423.1 L1353.2,434.6 L1358.1,446.1 L1364.7,456.0 L1368.0,460.1 L1372.9,458.5 L1379.5,459.3 L1386.1,457.7 L1389.4,455.2 L1391.8,452.7 L1395.1,461.0 L1405.8,462.6 L1413.2,459.3 L1416.5,428.1 L1419.3,416.5 L1422.3,437.9 L1426.7,416.5 L1430.5,433.0 L1434.6,446.1 L1437.1,441.2 L1440.3,453.5 L1448.6,462.6 L1470.0,462.6 L1470.9,461.8 L1474.5,427.3 L1478.2,434.5 L1483.6,409.0 L1487.3,420.0 L1490.0,398.0 L1493.6,436.4 L1498.2,431.0 L1502.7,423.6 L1505.5,398.0 L1510.1,230.3 L1512.6,230.3 L1513.9,300.6 L1516.4,355.9 L1518.9,368.4 L1521.4,267.9 L1525.2,245.3 L1527.7,265.4 L1530.2,350.9 L1534.0,255.4 L1539.0,273.0 L1541.5,257.9 L1545.3,190.0 L1548.3,240.3 L1551.6,273.0 L1555.3,330.8 L1560.4,453.9 L1567.9,456.4 L1577.9,458.9 L1585.5,462.7 L1594.3,461.4 L1600.6,315.7 L1605.6,305.6 L1608.1,330.8 L1610.6,335.8 L1614.4,355.9 L1619.4,193.8 L1623.2,421.2 L1626.9,427.5 L1630.7,456.4 L1634.5,461.4 L1640.0,446.2 L1644.4,454.2 L1648.9,442.6 L1656.0,383.1 L1659.9,426.6 L1665.8,359.1 L1671.1,405.3 L1676.9,344.9 L1681.2,407.1 L1684.4,400.0 L1688.3,328.9 L1691.0,350.3 L1696.0,284.5 L1703.0,270.0 L1706.0,258.6 L1711.0,186.1 L1713.2,183.4 L1716.6,272.8 L1719.0,160.4 L1720.8,189.7 L1723.5,295.2 L1726.5,244.4 L1730.6,163.0 L1733.3,246.5 L1734.1,341.4 L1739.6,244.4 L1747.4,202.1 L1751.9,297.0 L1755.4,237.6 L1758.1,273.9 L1761.6,318.3 L1764.3,312.1 L1767.0,334.3 L1768.7,320.1 L1772.3,350.3 L1778.0,256.3 L1783.8,378.7 L1786.5,346.7 L1791.5,275.7 L1795.4,308.5 L1802.9,163.0 L1805.2,200.3 L1807.5,214.5 L1811.4,230.5 L1814.0,258.9 L1816.7,327.2 L1820.3,439.1 L1823.8,456.8 L1830.9,462.2 L1832.0,462.5" stroke="#000" stroke-opacity="0.64" stroke-width="2.3"/>
</g>
<rect x="246.5" y="98.1" width="831" height="231.1" fill="#fff"/>
<g clip-path="url(#ci)" fill="none" stroke-linejoin="round">
<path d="M246.5,328.7 C248.6,328.5 256.2,328.7 259.1,327.9 C262.0,315.5 262.5,274.8 263.9,254.0 C265.4,233.2 266.9,209.1 268.1,203.1 C269.3,203.1 270.1,209.7 271.2,217.6 C272.4,225.5 273.4,246.7 274.9,250.3 C276.3,250.3 278.5,241.1 279.7,239.4 C280.9,239.4 281.3,240.6 282.1,240.6 C282.9,240.4 283.9,238.2 284.6,238.2 C285.2,238.8 285.4,238.2 286.3,244.3 C287.1,251.0 288.2,266.1 289.4,278.2 C290.6,290.4 292.2,315.0 293.5,317.0 C294.9,317.0 296.2,298.8 297.4,290.4 C298.7,282.0 300.0,267.4 301.0,266.6 C302.1,266.6 302.9,277.1 304.0,285.5 C305.0,293.9 306.4,310.0 307.6,317.0 C308.8,324.1 310.2,326.3 311.2,327.9 C312.2,327.9 312.6,327.9 313.7,326.7 C314.7,322.5 315.7,310.2 317.3,302.5 C318.9,294.8 321.7,289.6 323.4,280.7 C325.0,271.8 325.8,258.2 327.0,249.1 C328.2,240.0 329.4,227.7 330.6,226.1 C331.8,226.1 332.8,232.4 334.3,239.4 C335.8,246.5 338.2,266.1 339.6,268.5 C341.0,268.5 341.6,258.4 342.8,254.0 C343.9,249.5 344.8,244.3 346.4,241.9 C348.0,239.4 350.8,239.4 352.5,239.4 C354.1,240.6 354.5,244.7 356.1,249.1 C357.7,253.6 359.9,257.2 362.2,266.1 C364.4,275.0 366.8,292.4 369.4,302.5 C372.1,312.6 375.3,322.4 377.9,326.7 C380.5,328.7 377.9,328.5 385.2,328.7 C394.1,328.7 422.4,328.7 431.3,327.9 C438.5,326.4 436.5,321.3 438.5,319.5 C440.6,317.6 441.8,319.5 443.4,317.0 C445.0,312.6 446.6,295.6 448.2,292.8 C449.9,292.8 451.3,294.2 453.1,300.1 C454.9,305.9 453.1,323.5 459.1,327.9 C470.5,327.9 509.5,327.9 521.0,326.7 C528.3,322.5 525.6,313.4 528.3,302.5 C530.9,291.6 534.7,269.0 536.7,261.3 C538.8,255.9 539.2,256.8 540.4,255.9 C541.6,255.9 542.8,255.9 544.0,255.9 C545.2,258.4 545.8,260.0 547.7,271.0 C549.5,282.0 552.9,312.3 554.9,321.9 C556.9,328.7 555.3,327.7 559.8,328.7 C564.2,328.7 576.8,328.7 581.6,327.9 C586.5,322.0 586.9,298.8 588.9,292.8 C590.9,291.6 592.1,292.8 593.7,291.6 C595.3,288.3 597.4,276.4 598.6,273.4 C599.8,273.4 599.4,273.4 601.0,273.4 C602.6,277.8 605.4,291.6 608.3,300.1 C611.1,308.5 615.5,319.5 618.0,324.3 C620.4,328.7 618.8,327.9 622.8,328.7 C626.9,328.7 638.2,328.7 642.2,328.7 C646.3,323.5 645.1,323.4 647.1,297.6 C649.1,271.8 652.6,195.2 654.3,174.0 C656.0,170.3 656.2,170.3 657.3,170.3 C658.3,172.4 659.7,172.1 660.9,186.1 C662.1,200.0 663.1,232.6 664.5,254.0 C666.0,275.4 668.2,302.2 669.4,314.6 C670.6,327.1 669.4,326.3 671.8,328.7 C676.5,328.7 692.4,328.7 697.3,328.7 C700.9,324.3 699.7,317.4 700.9,302.5 C702.1,287.6 702.9,255.6 704.6,239.4 C706.2,223.3 708.8,208.9 710.6,205.5 C712.4,205.5 714.1,218.8 715.5,218.8 C716.9,218.8 718.0,211.1 719.1,205.5 C720.2,199.8 721.0,185.7 722.0,184.9 C723.0,184.9 724.0,196.0 725.2,200.6 C726.3,205.3 727.8,212.2 728.8,212.8 C729.8,212.8 730.4,204.3 731.2,204.3 C732.0,205.1 732.4,205.3 733.7,217.6 C734.9,229.9 736.7,260.9 738.5,278.2 C740.3,295.6 742.7,313.5 744.6,321.9 C746.4,328.7 745.8,327.5 749.4,328.7 C753.1,328.7 761.9,328.7 766.4,328.7 C770.8,327.9 773.1,325.8 776.1,324.3 C779.1,322.8 782.4,319.9 784.6,319.5 C786.8,319.5 787.6,320.9 789.4,321.9 C791.2,322.9 793.7,325.5 795.5,325.5 C797.3,321.5 798.7,317.6 800.3,297.6 C802.0,277.6 803.4,232.4 805.2,205.5 C807.0,178.6 809.6,145.3 811.3,136.4 C812.9,136.4 813.5,136.4 814.9,152.1 C816.3,171.7 818.1,226.5 819.7,254.0 C821.4,281.5 823.0,304.6 824.6,317.0 C826.2,328.7 825.8,326.7 829.4,328.7 C833.1,328.7 842.8,328.7 846.4,328.7 C850.0,320.3 849.6,299.0 851.3,278.2 C852.9,257.5 854.5,213.0 856.1,204.3 C857.7,204.3 859.1,226.1 861.0,226.1 C862.8,222.3 865.2,185.1 867.0,181.2 C868.8,181.2 870.1,203.1 871.9,203.1 C873.7,199.0 876.1,157.0 877.9,157.0 C879.8,157.0 881.6,193.2 882.8,203.1 C884.0,213.0 884.2,216.4 885.2,216.4 C886.2,216.2 887.6,201.9 888.8,201.9 C890.1,203.3 890.7,209.7 892.5,224.9 C894.3,240.0 897.7,275.6 899.8,292.8 C901.8,310.0 900.6,322.0 904.6,327.9 C908.6,328.7 920.0,328.7 924.0,328.7 C928.0,326.4 926.8,323.0 928.9,314.6 C930.9,306.2 934.3,294.4 936.1,278.2 C937.9,262.1 938.2,231.0 939.8,217.6 C941.3,204.3 943.5,198.2 945.3,198.2 C947.2,200.2 949.0,218.4 950.7,229.7 C952.4,241.1 953.9,252.0 955.5,266.1 C957.1,280.3 958.8,304.3 960.4,314.6 C962.0,324.9 960.8,325.6 965.2,327.9 C969.7,328.7 982.6,328.7 987.1,328.7 C991.5,326.9 990.5,328.7 991.9,317.0 C993.3,304.6 994.1,274.8 995.5,254.0 C997.0,233.2 998.6,198.6 1000.4,192.2 C1002.2,192.2 1004.6,211.3 1006.5,215.2 C1008.3,215.2 1009.9,215.2 1011.3,215.2 C1012.7,210.7 1013.7,192.6 1014.9,188.5 C1016.1,188.5 1017.4,188.5 1018.6,190.9 C1019.8,193.8 1020.8,202.3 1022.2,205.5 C1023.6,208.7 1025.6,210.3 1027.1,210.3 C1028.5,209.9 1029.3,203.1 1030.7,203.1 C1032.1,203.5 1034.1,207.5 1035.5,212.8 C1037.0,218.0 1037.6,232.2 1039.2,234.6 C1040.8,234.6 1043.6,227.3 1045.2,227.3 C1046.9,227.7 1047.5,228.5 1048.9,237.0 C1050.3,245.5 1052.5,267.7 1053.7,278.2 C1054.9,288.7 1055.1,297.6 1056.2,300.1 C1057.2,300.1 1058.0,292.8 1059.8,292.8 C1061.6,293.4 1064.1,301.3 1067.1,303.7 C1070.0,306.1 1075.8,306.7 1077.5,307.3" stroke="#e00000" stroke-width="2.3"/>
<path d="M246.5,328.7 L260.3,326.7 L263.9,312.2 L267.6,307.3 L270.0,278.2 L274.9,254.0 L280.4,229.7 L283.3,246.7 L287.0,241.9 L290.6,273.4 L295.5,285.5 L302.7,292.8 L307.6,295.2 L311.2,309.8 L314.9,317.0 L317.3,307.3 L320.9,307.3 L324.6,287.9 L327.0,285.5 L331.8,254.0 L336.7,239.4 L341.1,232.2 L345.2,251.6 L347.6,251.6 L353.7,239.4 L358.5,217.6 L361.4,211.6 L364.6,246.7 L368.2,256.4 L371.9,290.4 L375.5,308.5 L379.1,309.8 L382.8,319.5 L387.6,321.9 L393.7,326.7 L404.6,326.7 L428.8,327.9 L438.5,324.3 L445.8,314.6 L454.3,307.3 L460.4,317.0 L472.5,326.7 L487.0,327.9 L521.0,326.7 L528.3,307.3 L535.5,278.2 L540.4,267.3 L545.2,283.1 L552.5,307.3 L559.8,321.9 L569.5,326.7 L581.6,326.7 L588.9,300.1 L598.6,278.2 L608.3,297.6 L618.0,314.6 L630.1,324.3 L639.8,327.9 L642.2,317.0 L647.1,292.8 L653.1,188.5 L659.7,177.6 L663.3,249.1 L667.0,275.8 L673.0,307.3 L675.5,309.8 L680.3,321.4 L683.9,321.9 L687.6,325.5 L692.4,326.7 L696.1,312.2 L699.7,308.5 L704.6,266.1 L711.8,212.8 L713.0,206.7 L716.7,207.4 L722.7,192.2 L727.1,186.1 L730.0,195.8 L734.1,183.2 L737.3,237.0 L741.7,254.0 L747.0,306.1 L754.3,320.7 L764.0,325.5 L771.2,326.7 L778.5,321.9 L787.0,320.7 L794.3,321.9 L797.9,279.4 L801.6,271.0 L805.2,188.5 L810.0,161.8 L811.3,157.0 L814.4,119.4 L818.5,216.4 L821.0,212.3 L824.6,278.2 L828.2,311.0 L831.9,304.9 L834.3,323.1 L837.9,319.5 L841.6,324.3 L845.2,311.0 L847.6,313.4 L851.3,258.8 L854.9,246.7 L861.0,169.1 L864.6,144.9 L868.2,98.8 L871.1,147.3 L875.5,146.1 L881.6,178.8 L885.2,154.6 L888.8,147.3 L894.9,220.0 L901.0,285.5 L904.6,297.6 L909.5,314.6 L911.9,313.4 L915.5,324.3 L919.2,321.9 L922.8,325.5 L927.6,324.3 L932.5,295.2 L934.9,287.9 L938.6,220.0 L944.6,186.1 L948.7,159.4 L953.1,218.8 L956.0,214.0 L961.6,295.2 L966.4,314.6 L970.1,321.9 L972.5,314.6 L974.9,324.3 L978.6,321.9 L984.6,326.7 L989.5,327.9 L991.9,286.7 L995.5,280.7 L1001.6,200.6 L1006.5,186.1 L1011.3,147.3 L1016.1,101.2 L1019.8,135.2 L1022.2,137.6 L1029.5,200.6 L1035.5,205.5 L1039.2,217.6 L1045.2,227.3 L1048.9,232.2 L1053.7,258.8 L1058.6,273.4 L1062.2,290.4 L1066.6,286.7 L1077.5,303.7" stroke="#000" stroke-opacity="0.64" stroke-width="2.3"/>
</g>
<rect x="246.5" y="98.1" width="831" height="231.1" fill="none" stroke="#262626" stroke-opacity="0.85" stroke-width="1.2"/>
<text x="137.0" y="515.5" font-size="39.5" text-anchor="middle" fill="#262626" >0</text>
<text x="325.3" y="515.5" font-size="39.5" text-anchor="middle" fill="#262626" >200</text>
<text x="513.6" y="515.5" font-size="39.5" text-anchor="middle" fill="#262626" >400</text>
<text x="701.9" y="515.5" font-size="39.5" text-anchor="middle" fill="#262626" >600</text>
<text x="890.2" y="515.5" font-size="39.5" text-anchor="middle" fill="#262626" >800</text>
<text x="1078.5" y="515.5" font-size="39.5" text-anchor="middle" fill="#262626" >1000</text>
<text x="1266.8" y="515.5" font-size="39.5" text-anchor="middle" fill="#262626" >1200</text>
<text x="1455.1" y="515.5" font-size="39.5" text-anchor="middle" fill="#262626" >1400</text>
<text x="1643.4" y="515.5" font-size="39.5" text-anchor="middle" fill="#262626" >1600</text>
<text x="1831.7" y="515.5" font-size="39.5" text-anchor="middle" fill="#262626" >1800</text>
<text x="125.0" y="477.7" font-size="39.5" text-anchor="end" fill="#262626" >0</text>
<text x="125.0" y="285.8" font-size="39.5" text-anchor="end" fill="#262626" >5</text>
<text x="125.0" y="93.8" font-size="39.5" text-anchor="end" fill="#262626" >10</text>
<text x="984.5" y="569.9" font-size="43" text-anchor="middle" fill="#262626" >Elapsed time (s)</text>
<text transform="translate(64.9,266.4) rotate(-90)" x="0" y="0" font-size="43" text-anchor="middle" fill="#262626">PN conc. (cm<tspan dy="-20.2" font-size="34.4">-3</tspan><tspan dy="20.2" dx="4">)</tspan></text>
<path d="M142.7,41.4 L161.3,60.0 M142.7,60.0 L161.3,41.4" stroke="#262626" stroke-width="1.7" fill="none"/>
<text x="189.2" y="60.0" font-size="39.5" text-anchor="middle" fill="#262626">10</text>
<text x="219.4" y="41.7" font-size="32" text-anchor="middle" fill="#262626">6</text>
<text x="164.0" y="171.5" font-size="39.5" text-anchor="start" fill="#000" >(a)</text>
<path d="M1144,138.8 H1202" stroke="#e00000" stroke-width="2.3"/>
<path d="M1144,184 H1202" stroke="#000" stroke-opacity="0.64" stroke-width="2.3"/>
<text x="1206.0" y="152.9" font-size="35" text-anchor="start" fill="#000" >Reference</text>
<text x="1206.0" y="198.0" font-size="35" text-anchor="start" fill="#000" >CDC</text>
<path d="M137,621.1 H863.6 V1008.2 H137 Z M379.20,1008.2 v-7.3 M379.20,621.1 v7.3 M621.40,1008.2 v-7.3 M621.40,621.1 v7.3 M137,814.65 h7.3 M863.6,814.65 h-7.3" fill="none" stroke="#262626" stroke-width="1.2" stroke-opacity="0.85"/>
<g clip-path="url(#cb)" fill="none" stroke-linejoin="round">
<path d="M137.0,1008.2 L221.6,1006.6 L238.5,1003.4 L348.4,1002.5 L359.0,1000.8 L392.8,999.8 L407.6,997.3 L437.2,995.8 L449.9,993.4 L471.0,989.2 L492.2,985.0 L521.8,983.5 L530.0,979.1 L547.1,974.0 L571.0,968.8 L584.7,963.0 L605.2,962.7 L610.4,959.3 L622.3,953.1 L639.4,952.4 L649.7,947.3 L663.4,942.9 L683.9,942.2 L694.2,937.0 L711.3,936.0 L724.9,922.7 L735.2,886.8 L745.5,853.6 L764.3,851.9 L772.8,823.5 L784.8,820.1 L793.3,811.5 L801.9,799.5 L813.9,750.0 L820.7,732.9 L831.0,703.8 L841.2,681.6 L849.8,664.5 L856.6,643.3 L863.4,642.2" stroke="#ff0000" stroke-width="3.2"/>
<path d="M137.0,1008.6 L238.5,1007.8 L348.4,1007.2 L380.1,1005.1 L392.8,1004.6 L407.6,1001.9 L437.2,1000.4 L449.9,998.3 L471.0,993.4 L492.2,989.2 L521.8,987.1 L530.0,982.5 L547.1,978.4 L571.0,972.3 L584.7,966.1 L605.2,966.1 L610.4,958.6 L622.3,952.4 L639.4,951.7 L649.7,946.6 L663.4,942.2 L683.9,941.5 L694.2,936.3 L711.3,935.3 L724.9,924.4 L735.2,893.6 L745.5,861.1 L764.3,860.1 L774.5,833.7 L784.8,832.0 L793.3,825.2 L803.6,811.5 L817.3,763.6 L831.0,715.8 L848.1,678.1 L858.3,643.9 L863.4,643.3" stroke="#000" stroke-width="3.3"/>
</g>
<text x="137.0" y="1059.5" font-size="39.5" text-anchor="middle" fill="#262626" >0</text>
<text x="379.2" y="1059.5" font-size="39.5" text-anchor="middle" fill="#262626" >600</text>
<text x="621.4" y="1059.5" font-size="39.5" text-anchor="middle" fill="#262626" >1200</text>
<text x="863.6" y="1059.5" font-size="39.5" text-anchor="middle" fill="#262626" >1800</text>
<text x="125.0" y="1022.5" font-size="39.5" text-anchor="end" fill="#262626" >0</text>
<text x="125.0" y="829.0" font-size="39.5" text-anchor="end" fill="#262626" >5</text>
<text x="125.0" y="635.4" font-size="39.5" text-anchor="end" fill="#262626" >10</text>
<text x="500.3" y="1113.0" font-size="43" text-anchor="middle" fill="#262626" >Elapsed time (s)</text>
<text transform="translate(65.2,814.6) rotate(-90)" x="0" y="0" font-size="43" text-anchor="middle" fill="#262626">Cumulative PN conc. (cm<tspan dy="-20.2" font-size="34.4">-3</tspan><tspan dy="20.2" dx="4">)</tspan></text>
<path d="M142.7,593.4 L161.3,612.0 M142.7,612.0 L161.3,593.4" stroke="#262626" stroke-width="1.7" fill="none"/>
<text x="189.2" y="612.0" font-size="39.5" text-anchor="middle" fill="#262626">10</text>
<text x="219.4" y="593.7" font-size="32" text-anchor="middle" fill="#262626">8</text>
<text x="161.0" y="692.0" font-size="39.5" text-anchor="start" fill="#000" >(b)</text>
<path d="M1099.5,621.3 H1826.3 V1008.5 H1099.5 Z M1244.86,1008.5 v-7.3 M1244.86,621.3 v7.3 M1390.22,1008.5 v-7.3 M1390.22,621.3 v7.3 M1535.58,1008.5 v-7.3 M1535.58,621.3 v7.3 M1680.94,1008.5 v-7.3 M1680.94,621.3 v7.3 M1099.5,814.90 h7.3 M1826.3,814.90 h-7.3" fill="none" stroke="#262626" stroke-width="1.2" stroke-opacity="0.85"/>
<path d="M1142.9,966.3 l10.8,10.8 M1142.9,977.1 l10.8,-10.8 M1157.2,955.1 l10.8,10.8 M1157.2,965.9 l10.8,-10.8 M1152.6,957.8 l10.8,10.8 M1152.6,968.6 l10.8,-10.8 M1098.2,1001.1 l10.8,10.8 M1098.2,1011.9 l10.8,-10.8 M1169.8,955.0 l10.8,10.8 M1169.8,965.8 l10.8,-10.8 M1166.1,968.1 l10.8,10.8 M1166.1,978.9 l10.8,-10.8 M1130.5,982.9 l10.8,10.8 M1130.5,993.7 l10.8,-10.8 M1136.5,973.0 l10.8,10.8 M1136.5,983.8 l10.8,-10.8 M1097.3,1003.2 l10.8,10.8 M1097.3,1014.0 l10.8,-10.8 M1115.8,981.5 l10.8,10.8 M1115.8,992.3 l10.8,-10.8 M1154.8,972.7 l10.8,10.8 M1154.8,983.5 l10.8,-10.8 M1157.4,971.9 l10.8,10.8 M1157.4,982.7 l10.8,-10.8 M1142.5,979.5 l10.8,10.8 M1142.5,990.3 l10.8,-10.8 M1096.7,1000.0 l10.8,10.8 M1096.7,1010.8 l10.8,-10.8 M1110.6,995.2 l10.8,10.8 M1110.6,1006.0 l10.8,-10.8 M1173.1,948.7 l10.8,10.8 M1173.1,959.5 l10.8,-10.8 M1116.5,980.1 l10.8,10.8 M1116.5,990.9 l10.8,-10.8 M1136.1,971.0 l10.8,10.8 M1136.1,981.8 l10.8,-10.8 M1110.2,986.5 l10.8,10.8 M1110.2,997.3 l10.8,-10.8 M1148.5,958.9 l10.8,10.8 M1148.5,969.7 l10.8,-10.8 M1165.5,964.5 l10.8,10.8 M1165.5,975.3 l10.8,-10.8 M1122.0,989.2 l10.8,10.8 M1122.0,1000.0 l10.8,-10.8 M1106.0,999.5 l10.8,10.8 M1106.0,1010.3 l10.8,-10.8 M1117.4,984.9 l10.8,10.8 M1117.4,995.7 l10.8,-10.8 M1096.7,1001.0 l10.8,10.8 M1096.7,1011.8 l10.8,-10.8 M1120.2,987.8 l10.8,10.8 M1120.2,998.6 l10.8,-10.8 M1159.2,963.8 l10.8,10.8 M1159.2,974.6 l10.8,-10.8 M1118.6,986.1 l10.8,10.8 M1118.6,996.9 l10.8,-10.8 M1149.7,977.4 l10.8,10.8 M1149.7,988.2 l10.8,-10.8 M1172.5,966.8 l10.8,10.8 M1172.5,977.6 l10.8,-10.8 M1153.4,959.0 l10.8,10.8 M1153.4,969.8 l10.8,-10.8 M1097.5,999.7 l10.8,10.8 M1097.5,1010.5 l10.8,-10.8 M1122.4,981.4 l10.8,10.8 M1122.4,992.2 l10.8,-10.8 M1097.0,1003.6 l10.8,10.8 M1097.0,1014.4 l10.8,-10.8 M1108.5,988.0 l10.8,10.8 M1108.5,998.8 l10.8,-10.8 M1109.6,989.3 l10.8,10.8 M1109.6,1000.1 l10.8,-10.8 M1168.6,949.5 l10.8,10.8 M1168.6,960.3 l10.8,-10.8 M1120.7,986.7 l10.8,10.8 M1120.7,997.5 l10.8,-10.8 M1135.0,969.6 l10.8,10.8 M1135.0,980.4 l10.8,-10.8 M1103.3,994.9 l10.8,10.8 M1103.3,1005.7 l10.8,-10.8 M1157.4,956.7 l10.8,10.8 M1157.4,967.5 l10.8,-10.8 M1098.7,997.6 l10.8,10.8 M1098.7,1008.4 l10.8,-10.8 M1102.2,999.2 l10.8,10.8 M1102.2,1010.0 l10.8,-10.8 M1142.0,963.1 l10.8,10.8 M1142.0,973.9 l10.8,-10.8 M1120.4,977.0 l10.8,10.8 M1120.4,987.8 l10.8,-10.8 M1136.6,978.5 l10.8,10.8 M1136.6,989.3 l10.8,-10.8 M1118.6,991.0 l10.8,10.8 M1118.6,1001.8 l10.8,-10.8 M1101.3,1001.3 l10.8,10.8 M1101.3,1012.1 l10.8,-10.8 M1148.4,958.3 l10.8,10.8 M1148.4,969.1 l10.8,-10.8 M1107.1,999.1 l10.8,10.8 M1107.1,1009.9 l10.8,-10.8 M1173.5,955.6 l10.8,10.8 M1173.5,966.4 l10.8,-10.8 M1125.5,985.8 l10.8,10.8 M1125.5,996.6 l10.8,-10.8 M1140.6,965.7 l10.8,10.8 M1140.6,976.5 l10.8,-10.8 M1129.5,979.7 l10.8,10.8 M1129.5,990.5 l10.8,-10.8 M1099.9,996.7 l10.8,10.8 M1099.9,1007.5 l10.8,-10.8 M1098.4,1000.8 l10.8,10.8 M1098.4,1011.6 l10.8,-10.8 M1160.9,970.3 l10.8,10.8 M1160.9,981.1 l10.8,-10.8 M1151.9,957.5 l10.8,10.8 M1151.9,968.3 l10.8,-10.8 M1143.6,965.1 l10.8,10.8 M1143.6,975.9 l10.8,-10.8 M1103.2,997.7 l10.8,10.8 M1103.2,1008.5 l10.8,-10.8 M1106.2,991.4 l10.8,10.8 M1106.2,1002.2 l10.8,-10.8 M1117.0,987.7 l10.8,10.8 M1117.0,998.5 l10.8,-10.8 M1174.5,948.4 l10.8,10.8 M1174.5,959.2 l10.8,-10.8 M1172.5,957.8 l10.8,10.8 M1172.5,968.6 l10.8,-10.8 M1132.0,972.0 l10.8,10.8 M1132.0,982.8 l10.8,-10.8 M1131.3,981.6 l10.8,10.8 M1131.3,992.4 l10.8,-10.8 M1125.4,987.7 l10.8,10.8 M1125.4,998.5 l10.8,-10.8 M1123.3,973.0 l10.8,10.8 M1123.3,983.8 l10.8,-10.8 M1171.2,954.8 l10.8,10.8 M1171.2,965.6 l10.8,-10.8 M1132.9,979.8 l10.8,10.8 M1132.9,990.6 l10.8,-10.8 M1102.1,999.9 l10.8,10.8 M1102.1,1010.7 l10.8,-10.8 M1156.1,957.2 l10.8,10.8 M1156.1,968.0 l10.8,-10.8 M1122.1,977.9 l10.8,10.8 M1122.1,988.7 l10.8,-10.8 M1155.5,961.1 l10.8,10.8 M1155.5,971.9 l10.8,-10.8 M1146.3,964.3 l10.8,10.8 M1146.3,975.1 l10.8,-10.8 M1116.7,1001.8 l10.8,10.8 M1116.7,1012.6 l10.8,-10.8 M1111.0,1000.6 l10.8,10.8 M1111.0,1011.4 l10.8,-10.8 M1150.0,987.5 l10.8,10.8 M1150.0,998.3 l10.8,-10.8 M1111.9,1003.6 l10.8,10.8 M1111.9,1014.4 l10.8,-10.8 M1139.4,991.0 l10.8,10.8 M1139.4,1001.8 l10.8,-10.8 M1096.8,1003.6 l10.8,10.8 M1096.8,1014.4 l10.8,-10.8 M1109.0,1002.9 l10.8,10.8 M1109.0,1013.7 l10.8,-10.8 M1124.2,1002.3 l10.8,10.8 M1124.2,1013.1 l10.8,-10.8 M1139.2,994.5 l10.8,10.8 M1139.2,1005.3 l10.8,-10.8 M1115.6,1001.3 l10.8,10.8 M1115.6,1012.1 l10.8,-10.8 M1147.1,991.1 l10.8,10.8 M1147.1,1001.9 l10.8,-10.8 M1115.8,1003.6 l10.8,10.8 M1115.8,1014.4 l10.8,-10.8 M1159.2,982.9 l10.8,10.8 M1159.2,993.7 l10.8,-10.8 M1169.3,982.2 l10.8,10.8 M1169.3,993.0 l10.8,-10.8 M1128.5,995.5 l10.8,10.8 M1128.5,1006.3 l10.8,-10.8 M1103.9,1003.6 l10.8,10.8 M1103.9,1014.4 l10.8,-10.8 M1165.6,976.4 l10.8,10.8 M1165.6,987.2 l10.8,-10.8 M1143.0,991.4 l10.8,10.8 M1143.0,1002.2 l10.8,-10.8 M1146.4,980.9 l10.8,10.8 M1146.4,991.7 l10.8,-10.8 M1150.9,985.3 l10.8,10.8 M1150.9,996.1 l10.8,-10.8 M1140.8,987.7 l10.8,10.8 M1140.8,998.5 l10.8,-10.8 M1137.2,995.2 l10.8,10.8 M1137.2,1006.0 l10.8,-10.8 M1138.3,993.7 l10.8,10.8 M1138.3,1004.5 l10.8,-10.8 M1097.3,1003.1 l10.8,10.8 M1097.3,1013.9 l10.8,-10.8 M1122.5,1000.0 l10.8,10.8 M1122.5,1010.8 l10.8,-10.8 M1107.0,1003.4 l10.8,10.8 M1107.0,1014.2 l10.8,-10.8 M1137.8,983.1 l10.8,10.8 M1137.8,993.9 l10.8,-10.8 M1124.8,992.5 l10.8,10.8 M1124.8,1003.3 l10.8,-10.8 M1098.3,1002.6 l10.8,10.8 M1098.3,1013.4 l10.8,-10.8 M1113.5,996.5 l10.8,10.8 M1113.5,1007.3 l10.8,-10.8 M1105.5,998.7 l10.8,10.8 M1105.5,1009.5 l10.8,-10.8 M1124.3,995.2 l10.8,10.8 M1124.3,1006.0 l10.8,-10.8 M1136.2,992.7 l10.8,10.8 M1136.2,1003.5 l10.8,-10.8 M1108.2,1003.6 l10.8,10.8 M1108.2,1014.4 l10.8,-10.8 M1096.6,1003.6 l10.8,10.8 M1096.6,1014.4 l10.8,-10.8 M1110.8,999.9 l10.8,10.8 M1110.8,1010.7 l10.8,-10.8 M1101.1,1003.6 l10.8,10.8 M1101.1,1014.4 l10.8,-10.8 M1117.5,993.0 l10.8,10.8 M1117.5,1003.8 l10.8,-10.8 M1136.3,984.7 l10.8,10.8 M1136.3,995.5 l10.8,-10.8 M1130.7,991.4 l10.8,10.8 M1130.7,1002.2 l10.8,-10.8 M1213.1,817.5 l10.8,10.8 M1213.1,828.3 l10.8,-10.8 M1304.6,806.9 l10.8,10.8 M1304.6,817.7 l10.8,-10.8 M1315.2,829.7 l10.8,10.8 M1315.2,840.5 l10.8,-10.8 M1347.5,756.9 l10.8,10.8 M1347.5,767.7 l10.8,-10.8 M1375.2,813.2 l10.8,10.8 M1375.2,824.0 l10.8,-10.8 M1545.5,699.7 l10.8,10.8 M1545.5,710.5 l10.8,-10.8 M1522.6,749.5 l10.8,10.8 M1522.6,760.3 l10.8,-10.8 M1577.4,750.7 l10.8,10.8 M1577.4,761.5 l10.8,-10.8 M1557.2,763.7 l10.8,10.8 M1557.2,774.5 l10.8,-10.8 M1504.6,790.3 l10.8,10.8 M1504.6,801.1 l10.8,-10.8 M1522.8,779.9 l10.8,10.8 M1522.8,790.7 l10.8,-10.8 M1518.9,787.5 l10.8,10.8 M1518.9,798.3 l10.8,-10.8 M1524.6,786.0 l10.8,10.8 M1524.6,796.8 l10.8,-10.8 M1533.2,787.5 l10.8,10.8 M1533.2,798.3 l10.8,-10.8 M1547.1,796.1 l10.8,10.8 M1547.1,806.9 l10.8,-10.8 M1538.4,804.8 l10.8,10.8 M1538.4,815.6 l10.8,-10.8 M1494.0,810.3 l10.8,10.8 M1494.0,821.1 l10.8,-10.8 M1481.7,823.7 l10.8,10.8 M1481.7,834.5 l10.8,-10.8 M1434.6,821.7 l10.8,10.8 M1434.6,832.5 l10.8,-10.8 M1456.9,834.6 l10.8,10.8 M1456.9,845.4 l10.8,-10.8 M1467.5,841.7 l10.8,10.8 M1467.5,852.5 l10.8,-10.8 M1475.2,843.7 l10.8,10.8 M1475.2,854.5 l10.8,-10.8 M1507.5,852.3 l10.8,10.8 M1507.5,863.1 l10.8,-10.8 M1418.9,841.7 l10.8,10.8 M1418.9,852.5 l10.8,-10.8 M1427.5,852.3 l10.8,10.8 M1427.5,863.1 l10.8,-10.8 M1395.2,863.7 l10.8,10.8 M1395.2,874.5 l10.8,-10.8 M1396.3,890.3 l10.8,10.8 M1396.3,901.1 l10.8,-10.8 M1341.7,884.6 l10.8,10.8 M1341.7,895.4 l10.8,-10.8 M1365.2,888.9 l10.8,10.8 M1365.2,899.7 l10.8,-10.8 M1373.7,888.3 l10.8,10.8 M1373.7,899.1 l10.8,-10.8 M1345.5,903.2 l10.8,10.8 M1345.5,914.0 l10.8,-10.8 M1327.5,913.2 l10.8,10.8 M1327.5,924.0 l10.8,-10.8 M1318.0,921.7 l10.8,10.8 M1318.0,932.5 l10.8,-10.8 M1298.0,911.7 l10.8,10.8 M1298.0,922.5 l10.8,-10.8 M1255.8,920.5 l10.8,10.8 M1255.8,931.3 l10.8,-10.8 M1242.1,955.4 l10.8,10.8 M1242.1,966.2 l10.8,-10.8 M1222.0,961.7 l10.8,10.8 M1222.0,972.5 l10.8,-10.8 M1782.6,726.9 l10.8,10.8 M1782.6,737.7 l10.8,-10.8 M1642.3,736.6 l10.8,10.8 M1642.3,747.4 l10.8,-10.8 M1639.1,737.7 l10.8,10.8 M1639.1,748.5 l10.8,-10.8 M1200.9,964.9 l10.8,10.8 M1200.9,975.7 l10.8,-10.8 M1207.2,952.2 l10.8,10.8 M1207.2,963.0 l10.8,-10.8 M1186.1,970.7 l10.8,10.8 M1186.1,981.5 l10.8,-10.8 M1170.2,985.0 l10.8,10.8 M1170.2,995.8 l10.8,-10.8 M1178.7,1001.4 l10.8,10.8 M1178.7,1012.2 l10.8,-10.8 M1158.1,1002.4 l10.8,10.8 M1158.1,1013.2 l10.8,-10.8 M1137.5,1002.4 l10.8,10.8 M1137.5,1013.2 l10.8,-10.8 M1175.0,949.0 l10.8,10.8 M1175.0,959.8 l10.8,-10.8 M1166.5,948.0 l10.8,10.8 M1166.5,958.8 l10.8,-10.8 M1159.7,954.3 l10.8,10.8 M1159.7,965.1 l10.8,-10.8 M1170.2,960.7 l10.8,10.8 M1170.2,971.5 l10.8,-10.8 M1140.6,964.4 l10.8,10.8 M1140.6,975.2 l10.8,-10.8 M1127.9,978.1 l10.8,10.8 M1127.9,988.9 l10.8,-10.8 M1152.3,993.4 l10.8,10.8 M1152.3,1004.2 l10.8,-10.8 M1181.8,972.6 l10.8,10.8 M1181.8,983.4 l10.8,-10.8 M1155.4,995.4 l10.8,10.8 M1155.4,1006.2 l10.8,-10.8 M1138.1,961.5 l10.8,10.8 M1138.1,972.3 l10.8,-10.8 M1148.5,962.2 l10.8,10.8 M1148.5,973.0 l10.8,-10.8 M1124.3,975.3 l10.8,10.8 M1124.3,986.1 l10.8,-10.8 M1157.5,952.5 l10.8,10.8 M1157.5,963.3 l10.8,-10.8 M1171.4,960.8 l10.8,10.8 M1171.4,971.6 l10.8,-10.8" fill="none" stroke="#4aaa48" stroke-width="2.6"/>
<path d="M1104.5,1007 L1787.8,669.1" stroke="#000" stroke-width="3.3"/>
<text x="1099.5" y="1059.5" font-size="39.5" text-anchor="middle" fill="#262626" >0</text>
<text x="1244.9" y="1059.5" font-size="39.5" text-anchor="middle" fill="#262626" >2</text>
<text x="1390.2" y="1059.5" font-size="39.5" text-anchor="middle" fill="#262626" >4</text>
<text x="1535.6" y="1059.5" font-size="39.5" text-anchor="middle" fill="#262626" >6</text>
<text x="1680.9" y="1059.5" font-size="39.5" text-anchor="middle" fill="#262626" >8</text>
<text x="1826.3" y="1059.5" font-size="39.5" text-anchor="middle" fill="#262626" >10</text>
<text x="1085.0" y="1022.8" font-size="39.5" text-anchor="end" fill="#262626" >0</text>
<text x="1085.0" y="829.2" font-size="39.5" text-anchor="end" fill="#262626" >5</text>
<text x="1085.0" y="635.6" font-size="39.5" text-anchor="end" fill="#262626" >10</text>
<text x="1463.0" y="1125.8" font-size="43" text-anchor="middle" fill="#262626" >Ref. peak height (cm<tspan dy="-20.2" font-size="34.4">-3</tspan><tspan dy="20.2" dx="4">)</tspan></text>
<text transform="translate(1025.7,815.4) rotate(-90)" x="0" y="0" font-size="43" text-anchor="middle" fill="#262626">CDC peak height (cm<tspan dy="-20.2" font-size="34.4">-3</tspan><tspan dy="20.2" dx="4">)</tspan></text>
<path d="M1105.0,592.9 L1123.6,611.5 M1105.0,611.5 L1123.6,592.9" stroke="#262626" stroke-width="1.7" fill="none"/>
<text x="1151.5" y="611.5" font-size="39.5" text-anchor="middle" fill="#262626">10</text>
<text x="1181.7" y="593.2" font-size="32" text-anchor="middle" fill="#262626">6</text>
<path d="M1739.6,1102.7 L1758.2,1121.3 M1739.6,1121.3 L1758.2,1102.7" stroke="#262626" stroke-width="1.7" fill="none"/>
<text x="1786.1" y="1121.3" font-size="39.5" text-anchor="middle" fill="#262626">10</text>
<text x="1816.3" y="1103.0" font-size="32" text-anchor="middle" fill="#262626">6</text>
<text x="1135.0" y="692.0" font-size="39.5" text-anchor="start" fill="#000" >(c)</text>
<path d="M1626.8,957.5 l11.6,11.6 M1626.8,969.1 l11.6,-11.6" fill="none" stroke="#4aaa48" stroke-width="2.2"/>
<text x="1655" y="982.5" font-size="35" fill="#000">R<tspan dy="-16.5" font-size="27">2</tspan><tspan dy="16.5" dx="1.5"> = 0.90</tspan></text>
</svg></body></html>
